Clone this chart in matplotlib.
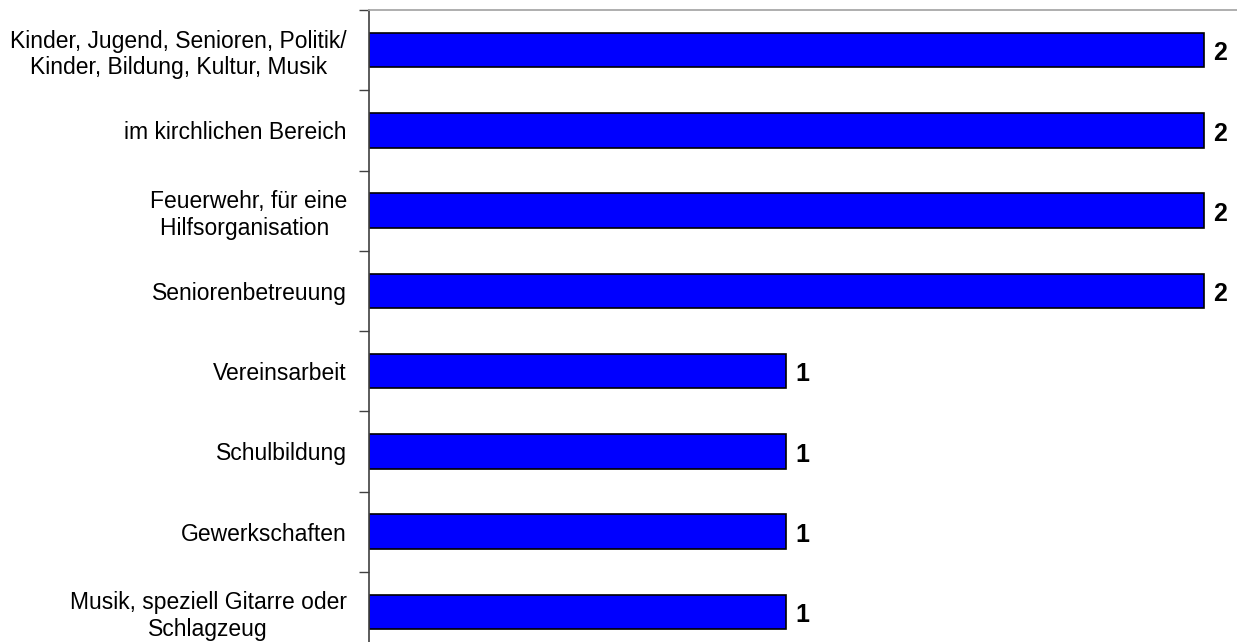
import matplotlib
matplotlib.use("Agg")
import matplotlib.pyplot as plt
import numpy as np

categories = [
    "Kinder, Jugend, Senioren, Politik/\nKinder, Bildung, Kultur, Musik",
    "im kirchlichen Bereich",
    "Feuerwehr, für eine\nHilfsorganisation ",
    "Seniorenbetreuung",
    "Vereinsarbeit",
    "Schulbildung",
    "Gewerkschaften",
    "Musik, speziell Gitarre oder\nSchlagzeug",
]
values = [2, 2, 2, 2, 1, 1, 1, 1]

plt.rcParams['font.family'] = ['Liberation Sans', 'DejaVu Sans']

W, H = 1237, 642
fig = plt.figure(figsize=(W / 100, H / 100), dpi=100)
top_px, bot_px, left_px = 10, 652, 369
ax = fig.add_axes([left_px / W, (H - bot_px) / H, 1 - left_px / W, (bot_px - top_px) / H])

n = len(categories)
y = np.arange(n)
ax.barh(y, values, height=0.43, color="#0000FF", edgecolor="black", linewidth=1.2)
ax.set_ylim(n - 0.5, -0.5)
ax.set_xlim(0, (W - 370) / 417)

ax.set_yticks(y)
ax.set_yticklabels(categories, fontsize=16.5, multialignment="center", linespacing=1.2)
ax.set_yticks(np.arange(n + 1) - 0.5, minor=True)
ax.tick_params(axis="y", which="major", length=0, pad=16)
ax.tick_params(axis="y", which="minor", length=7, width=1, color="#404040", direction="out")
ax.set_xticks([])

for s in ["right", "bottom"]:
    ax.spines[s].set_visible(False)
ax.spines["left"].set_color("#404040")
ax.spines["left"].set_linewidth(1.2)
ax.spines["top"].set_color("#a8a8a8")
ax.spines["top"].set_linewidth(1.3)

for yi, v in zip(y, values):
    ax.text(v + 9 / 417, yi + 0.04, str(v), va="center", ha="left", fontsize=18, fontweight="bold")

fig.savefig("out.png", dpi=100)
